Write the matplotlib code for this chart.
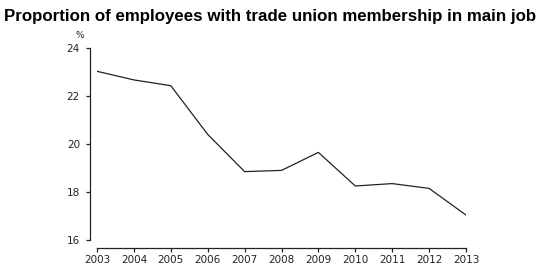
import matplotlib
matplotlib.use("Agg")
import matplotlib.pyplot as plt

years = [2003, 2004, 2005, 2006, 2007, 2008, 2009, 2010, 2011, 2012, 2013]
share = [23.03, 22.67, 22.43, 20.4, 18.85, 18.9, 19.65, 18.25, 18.35, 18.15, 17.04]
y_ticks = [16, 18, 20, 22, 24]

W, H = 546, 272
fig = plt.figure(figsize=(W / 100, H / 100), dpi=100)
ax = fig.add_axes([97 / W, (H - 240) / H, (466 - 97) / W, 192 / H])

ax.plot(years, share, color="#222222", linewidth=0.9)

ax.set_xlim(2003, 2013)
ax.set_ylim(16, 24)
ax.set_xticks(years)
ax.set_xticklabels([str(y) for y in years])
ax.set_yticks(y_ticks)

for s in ["top", "right"]:
    ax.spines[s].set_visible(False)
ax.spines["left"].set_position(("outward", 5))
ax.spines["bottom"].set_position(("outward", 6))
for s in ["left", "bottom"]:
    ax.spines[s].set_linewidth(0.9)
    ax.spines[s].set_color("#222222")

ax.tick_params(axis="both", labelsize=7.5, length=3, width=0.9,
               color="#222222", labelcolor="#222222")
ax.tick_params(axis="y", pad=4.3)
ax.tick_params(axis="x", pad=1.5)

fig.text(80 / W, 1 - 36 / H, "%", fontsize=6.5, ha="center", va="center",
         color="#222222")
fig.text(4 / W, 1 - 16 / H,
         "Proportion of employees with trade union membership in main job",
         fontsize=12.2, fontweight="bold", family="Liberation Sans",
         ha="left", va="center")

fig.savefig("out.png", dpi=100)
